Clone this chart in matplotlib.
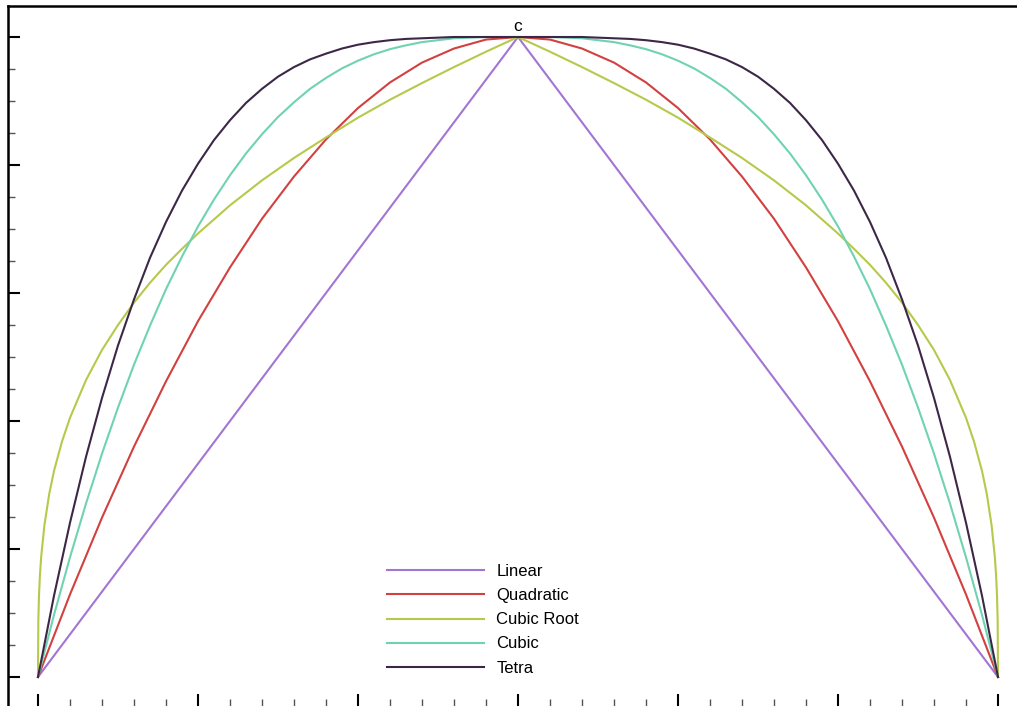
import matplotlib.pyplot as plt
from matplotlib.ticker import MultipleLocator

plt.rcParams['font.family'] = ['Liberation Sans', 'DejaVu Sans']

# left half of each curve (x from 0 to the peak at 15);
# the right half is the mirror image about x = 15
linear_x = [0, 15, 30]
linear_y = [0.0, 1.0, 0.0]

quad_half_x = [0, 1, 2, 3, 4, 5, 6, 7, 8, 9, 10, 11, 12, 13, 14, 15]
quad_half_y = [0.0, 0.129, 0.249, 0.36, 0.462, 0.556, 0.64, 0.716, 0.782,
               0.84, 0.889, 0.929, 0.96, 0.982, 0.996, 1.0]

croot_half_x = [0, 0.01, 0.03, 0.06, 0.1, 0.2, 0.35, 0.5, 0.75, 1, 1.5, 2,
                2.5, 3, 3.5, 4, 4.5, 5, 6, 7, 8, 9, 10, 11, 12, 13, 14, 15]
croot_half_y = [0.0, 0.087, 0.126, 0.159, 0.188, 0.237, 0.286, 0.322, 0.368,
                0.405, 0.464, 0.511, 0.55, 0.585, 0.616, 0.644, 0.669, 0.693,
                0.737, 0.776, 0.811, 0.843, 0.874, 0.902, 0.928, 0.953, 0.977,
                1.0]

cubic_half_x = [0, 0.5, 1, 1.5, 2, 2.5, 3, 3.5, 4, 4.5, 5, 5.5, 6, 6.5, 7, 7.5,
                8, 8.5, 9, 9.5, 10, 10.5, 11, 11.5, 12, 12.5, 13, 13.5, 14,
                14.5, 15]
cubic_half_y = [0.0, 0.097, 0.187, 0.271, 0.349, 0.421, 0.488, 0.549, 0.606,
                0.657, 0.704, 0.746, 0.784, 0.818, 0.848, 0.875, 0.898, 0.919,
                0.936, 0.951, 0.963, 0.973, 0.981, 0.987, 0.992, 0.995, 0.998,
                0.999, 1.0, 1.0, 1.0]

tetra_half_x = cubic_half_x
tetra_half_y = [0.0, 0.127, 0.241, 0.344, 0.436, 0.518, 0.59, 0.655, 0.711,
                0.76, 0.802, 0.839, 0.87, 0.897, 0.919, 0.938, 0.953, 0.965,
                0.974, 0.982, 0.988, 0.992, 0.995, 0.997, 0.998, 0.999, 1.0,
                1.0, 1.0, 1.0, 1.0]

labels = ['Linear', 'Quadratic', 'Cubic Root', 'Cubic', 'Tetra']
colors = ['#a274d4', '#d2403f', '#b7c94b', '#6fd3b1', '#3d2747']
peak_label = 'c'


def mirror(hx, hy):
    xs = list(hx) + [30 - v for v in reversed(hx[:-1])]
    ys = list(hy) + list(reversed(hy[:-1]))
    return xs, ys


series = [
    (linear_x, linear_y),
    mirror(quad_half_x, quad_half_y),
    mirror(croot_half_x, croot_half_y),
    mirror(cubic_half_x, cubic_half_y),
    mirror(tetra_half_x, tetra_half_y),
]

W, H = 1017, 706
fig = plt.figure(figsize=(W / 100, H / 100), dpi=100)
# axes frame: left spine at px 8, top spine at px 6, runs past right/bottom edges
ax = fig.add_axes([8 / W, 0, 1 - 8 / W, 1 - 6 / H])

for (xs, ys), lab, col in zip(series, labels, colors):
    ax.plot(xs, ys, color=col, lw=1.5, label=lab)

# 32 px per x unit, 640 px per y unit
ax.set_xlim(-30 / 32, 30 + (W - 998) / 32)
ax.set_ylim(-29 / 640, 1 + 31 / 640)

ax.text(15, 1.009, peak_label, ha='center', va='baseline', fontsize=12.5)

ax.spines['right'].set_visible(False)
ax.spines['bottom'].set_visible(False)
ax.spines['top'].set_linewidth(1.8)
ax.spines['left'].set_linewidth(1.8)

ax.xaxis.set_major_locator(MultipleLocator(5))
ax.xaxis.set_minor_locator(MultipleLocator(1))
ax.yaxis.set_major_locator(MultipleLocator(0.2))
ax.yaxis.set_minor_locator(MultipleLocator(0.05))
ax.tick_params(which='both', direction='in', top=False, right=False,
               labelbottom=False, labelleft=False)
ax.tick_params(which='major', length=8.5, width=1.5)
ax.tick_params(which='minor', length=5, width=1.0, color='#555555')

ax.legend(loc='upper left', bbox_to_anchor=(387 / W, 1 - 564 / H),
          bbox_transform=fig.transFigure, frameon=False, fontsize=12,
          handlelength=5.8, handletextpad=0.75, labelspacing=0.55,
          borderpad=0, borderaxespad=0)

fig.savefig('out.png', dpi=100)
